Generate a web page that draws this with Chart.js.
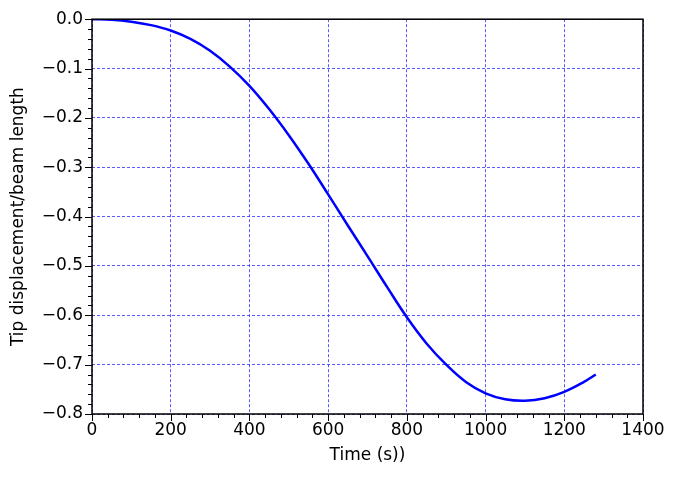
<!DOCTYPE html><html><head><script src="https://cdn.jsdelivr.net/npm/chart.js@4"></script>
<style>body{margin:0;background:#fff}#w{width:677px;height:478px}</style></head><body><div id="w"><canvas id="c"></canvas></div><script>
const timeValues=[0,50,100,150,200,250,300,350,400,450,500,550,600,650,700,750,800,850,900,950,1000,1050,1100,1150,1200,1250,1280];
const tipValues=[0,-0.001,-0.005,-0.012,-0.023,-0.040,-0.064,-0.096,-0.135,-0.182,-0.235,-0.293,-0.355,-0.418,-0.480,-0.543,-0.604,-0.657,-0.700,-0.735,-0.758,-0.770,-0.773,-0.768,-0.755,-0.735,-0.720];
const xTicks=[0,200,400,600,800,1000,1200,1400];
const yTicks=[0,-0.1,-0.2,-0.3,-0.4,-0.5,-0.6,-0.7,-0.8];
const font={family:'DejaVu Sans',size:17};
const tickPlugin={id:'tk',afterDraw(ch){const c=ch.ctx,a=ch.chartArea,x=ch.scales.x,y=ch.scales.y;c.save();c.strokeStyle='#000';c.lineWidth=1;c.beginPath();
for(let v=0;v<=1400;v+=40){const p=Math.round(x.getPixelForValue(v))+0.5;const L=(v%200===0)?7:4;c.moveTo(p,a.bottom);c.lineTo(p,a.bottom+L);}
for(let i=0;i<=40;i++){const v=-i*0.02;const p=Math.round(y.getPixelForValue(v))+0.5;const L=(i%5===0)?7:4;c.moveTo(a.left,p);c.lineTo(a.left-L,p);}
c.stroke();c.lineWidth=1.5;c.strokeRect(a.left,a.top,a.right-a.left,a.bottom-a.top);c.restore();}};
new Chart(document.getElementById('c'),{type:'line',data:{datasets:[{data:timeValues.map((t,i)=>({x:t,y:tipValues[i]})),borderColor:'#0000ff',borderWidth:2.5,pointRadius:0,tension:0.4}]},
options:{responsive:true,maintainAspectRatio:false,animation:false,layout:{padding:{top:18,right:34,left:4,bottom:12}},plugins:{legend:{display:false},tooltip:{enabled:false}},
scales:{x:{type:'linear',min:0,max:1400,afterBuildTicks:s=>{s.ticks=xTicks.map(v=>({value:v}))},afterFit:s=>{s.height=52},border:{display:false,dash:[3,2]},
grid:{color:'#3030ff',lineWidth:0.8,drawTicks:false},ticks:{color:'#000',font,padding:6,maxRotation:0,callback:v=>String(v)},
title:{display:true,text:'Time (s))',color:'#000',font,padding:{top:0,bottom:0}}},
y:{type:'linear',min:-0.8,max:0,afterBuildTicks:s=>{s.ticks=yTicks.map(v=>({value:v}))},afterFit:s=>{s.width=88},border:{display:false,dash:[3,2]},
grid:{color:'#3030ff',lineWidth:0.8,drawTicks:false},ticks:{color:'#000',font,padding:9,callback:v=>v===0?'0.0':('\u2212'+Math.abs(v).toFixed(1))},
title:{display:true,text:'Tip displacement/beam length',color:'#000',font,padding:{bottom:2}}}}},plugins:[tickPlugin]});
</script></body></html>
